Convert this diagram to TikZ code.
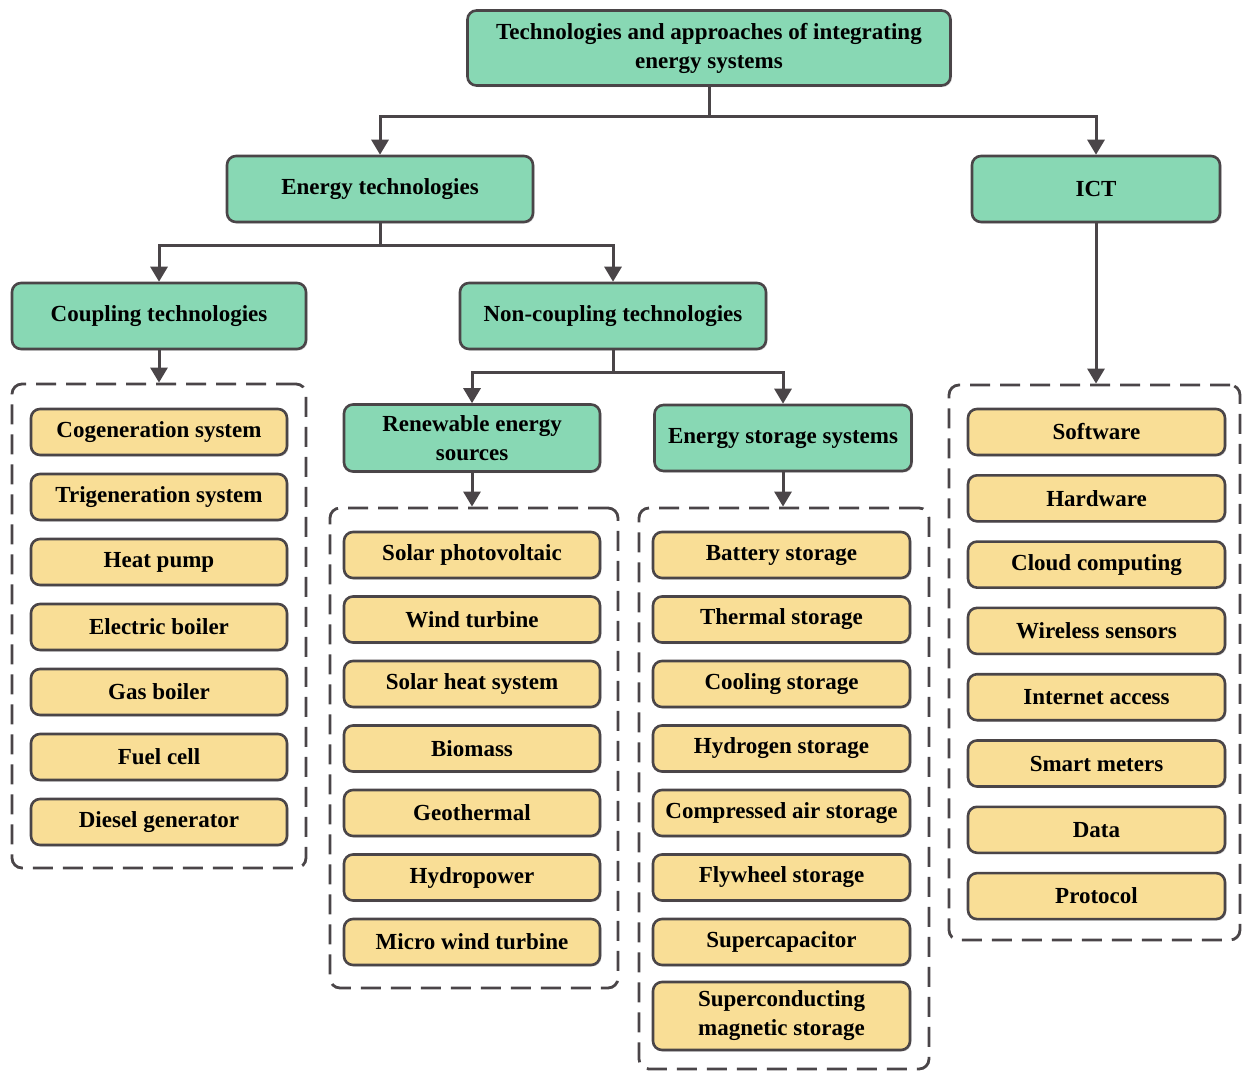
\documentclass[tikz,border=0pt]{standalone}
\usepackage{fontspec}
\setmainfont{Liberation Serif}
\usetikzlibrary{arrows.meta, shadows}
\definecolor{boxgreen}{HTML}{88D8B4}
\definecolor{boxyellow}{HTML}{F9DE96}
\definecolor{linegray}{HTML}{4A4548}
\begin{document}
\begin{tikzpicture}[x=1pt, y=-1pt, font=\fontsize{23}{29}\selectfont\bfseries,
  hd/.style={draw=linegray, fill=boxgreen, rounded corners=9pt, line width=2.6pt,
             align=center, inner sep=0pt, minimum height=66pt,
             drop shadow={shadow xshift=1.5pt, shadow yshift=-1.5pt, opacity=0.25}},
  it/.style={hd, fill=boxyellow, minimum height=46pt},
  grp/.style={draw=linegray, dash pattern=on 20pt off 10pt, line width=2.8pt,
              rounded corners=10pt, inner sep=0pt},
  arr/.style={-{Triangle[length=15pt, width=17pt]}, linegray, line width=3pt}
]
\useasboundingbox (0,0) rectangle (1242,1072);

% headings
\node[hd, minimum width=483pt, minimum height=75pt] (root) at (709,48)
  {Technologies and approaches of integrating\\energy systems};
\node[hd, minimum width=306pt] (et)  at (380,189)  {Energy technologies};
\node[hd, minimum width=248pt] (ict) at (1096,189) {ICT};
\node[hd, minimum width=294pt] (cpl) at (159,316)  {Coupling technologies};
\node[hd, minimum width=306pt] (ncp) at (613,316)  {Non-coupling technologies};
\node[hd, minimum width=256pt, minimum height=67pt] (res) at (472,438) {Renewable energy\\sources};
\node[hd, minimum width=257pt] (ess) at (783,438)  {Energy storage systems};

% dashed groups
\node[grp, minimum width=294pt, minimum height=484pt] (gcpl) at (159,626)    {};
\node[grp, minimum width=288pt, minimum height=480pt] (gres) at (474,748)    {};
\node[grp, minimum width=290pt, minimum height=561pt] (gess) at (784,788.5)  {};
\node[grp, minimum width=291pt, minimum height=555pt] (gict) at (1094.5,662.5) {};

% items
\foreach \t [count=\i from 0] in {Cogeneration system, Trigeneration system, Heat pump,
    Electric boiler, Gas boiler, Fuel cell, Diesel generator}
  \node[it, minimum width=256pt] (c\i) at (159,{432+65*\i}) {\t};
\foreach \t [count=\i from 0] in {Solar photovoltaic, Wind turbine, Solar heat system,
    Biomass, Geothermal, Hydropower, Micro wind turbine}
  \node[it, minimum width=256pt] (r\i) at (472,{555+64.5*\i}) {\t};
\foreach \t [count=\i from 0] in {Battery storage, Thermal storage, Cooling storage,
    Hydrogen storage, Compressed air storage, Flywheel storage, Supercapacitor}
  \node[it, minimum width=257pt] (s\i) at (781.5,{555+64.5*\i}) {\t};
\node[it, minimum width=257pt, minimum height=68pt] (s7) at (781.5,1016)
  {Superconducting\\magnetic storage};
\foreach \t [count=\i from 0] in {Software, Hardware, Cloud computing, Wireless sensors,
    Internet access, Smart meters, Data, Protocol}
  \node[it, minimum width=257pt] (t\i) at (1096.5,{432+66.3*\i}) {\t};

% connectors
\coordinate (j1) at (709,116);
\coordinate (j2) at (380,245);
\coordinate (j3) at (613,372);
\draw[arr] (root) -- (j1) -| (et);
\draw[arr] (j1) -| (ict);
\draw[arr] (et) -- (j2) -| (cpl);
\draw[arr] (j2) -| (ncp);
\draw[arr] (ncp) -- (j3) -| (res);
\draw[arr] (j3) -| (ess);
\draw[arr] (cpl) -- (gcpl);
\draw[arr] (res.south) -- (res.south |- gres.north);
\draw[arr] (ess.south) -- (ess.south |- gess.north);
\draw[arr] (ict.south) -- (ict.south |- gict.north);
\end{tikzpicture}
\end{document}
